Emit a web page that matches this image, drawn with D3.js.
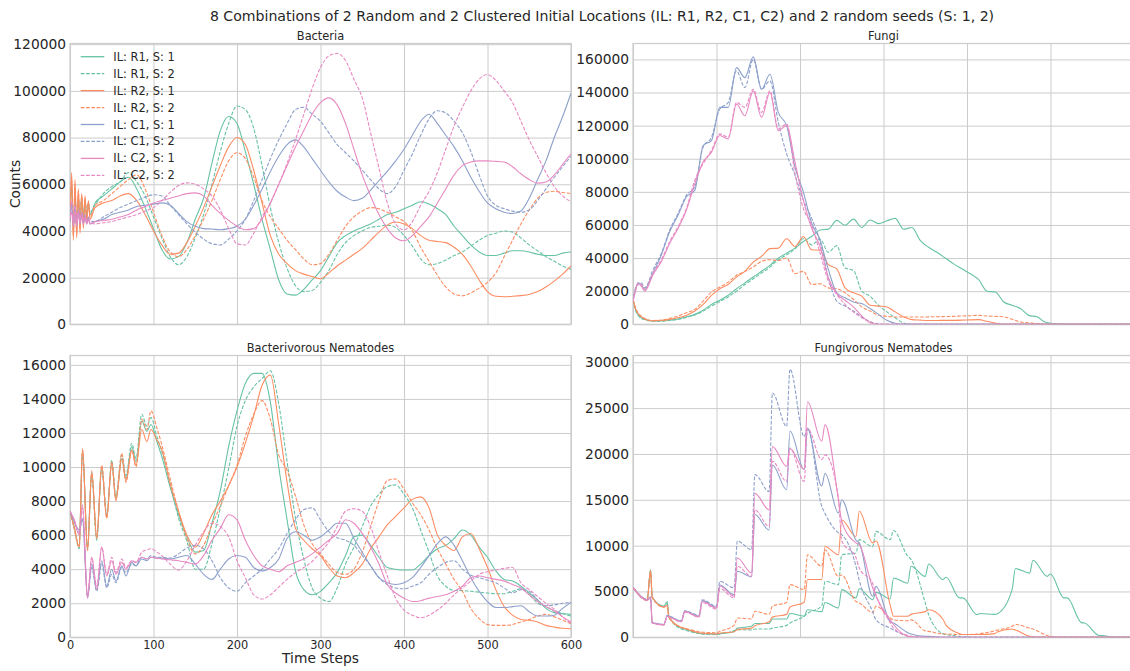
<!DOCTYPE html>
<html>
<head>
<meta charset="utf-8">
<script src="https://cdn.jsdelivr.net/npm/d3@7"></script>
<style>
  body { margin: 0; background: #fff; }
  svg text { font-family: "DejaVu Sans", sans-serif; fill: #262626; }
</style>
</head>
<body>
<svg id="chart" width="1130" height="671"></svg>
<script>
// ---------- data ----------
var runLabels = ["IL: R1, S: 1", "IL: R1, S: 2", "IL: R2, S: 1", "IL: R2, S: 2",
                 "IL: C1, S: 1", "IL: C1, S: 2", "IL: C2, S: 1", "IL: C2, S: 2"];
var runColors = ["#66c2a5", "#66c2a5", "#fc8d62", "#fc8d62", "#8da0cb", "#8da0cb", "#e78ac3", "#e78ac3"];
var runDashed = [false, true, false, true, false, true, false, true];

var stepTicks = [0, 100, 200, 300, 400, 500, 600];
var bacTicks = [0, 20000, 40000, 60000, 80000, 100000, 120000];
var funTicks = [0, 20000, 40000, 60000, 80000, 100000, 120000, 140000, 160000];
var bnTicks = [0, 2000, 4000, 6000, 8000, 10000, 12000, 14000, 16000];
var fnTicks = [0, 5000, 10000, 15000, 20000, 25000, 30000];

// Bacteria
var tBac = [0,2,4,6,8,10,12,14,16,18,20,22,24,30,40,50,60,70,80,90,100,110,120,130,140,150,160,170,180,190,200,
  210,220,230,240,250,260,270,280,290,300,310,320,330,340,350,360,370,380,390,400,410,420,430,440,450,460,470,480,490,500,
  510,520,530,540,550,560,570,580,590,600];
var bacR1S1 = [48000,60000,40000,56000,42000,54000,44000,55000,45000,53000,46000,52000,47000, 52000,
  55000,58000,61000,63000,58000,50000,41000,
  32000,28000,29000,35000,45000,54000,69000,83000,89000,86000,
  74000,60000,45000,32000,19000,13000,12500,15000,19000,23000,
  29000,35000,38000,40000,41500,43000,45000,47000,48000,49500,
  51000,52500,51500,49500,47000,42000,38000,34000,31000,29500,
  29500,30500,31500,31500,31000,30000,29500,29500,30500,31000];
var bacR1S2 = [50000,58000,42000,55000,43000,54000,45000,53000,46000,53000,47000,52000,48000, 51000,
  56000,59000,61000,65000,61000,55000,46000,
  37000,29000,25500,29000,37000,47000,60000,74000,86000,93500,
  92000,84000,68000,50000,35000,24000,16500,14000,14500,18000,
  23000,30000,35000,38000,40000,41500,42000,42500,41500,38000,
  33500,28000,25500,26000,27500,29500,31000,33500,36000,38000,
  39000,40000,39500,37000,34000,31500,29000,27000,25000,23500];
var bacR2S1 = [44000,65000,36000,62000,37000,58000,39000,56000,41000,55000,43000,53000,45000, 50000,
  52000,53000,55000,56000,53000,47000,40000,
  34000,30000,30500,35000,42000,50000,59000,68000,76000,80000,
  77000,66000,52000,38000,30000,26000,23000,21500,20500,19500,
  22000,25000,27500,30000,32500,36000,39500,42500,43800,43000,
  41000,38000,36000,35500,35000,33000,30000,25000,19000,14000,
  12000,11800,12000,12300,12800,14000,16000,18500,21500,25000];
var bacR2S2 = [46000,62000,38000,60000,39000,57000,41000,55000,43000,54000,45000,52000,46000, 51000,
  53000,56000,59000,62000,64000,58000,48000,
  38000,31000,29000,32000,38000,45000,53000,62000,70000,73500,
  71000,63000,53000,46000,41000,36000,32000,28000,25500,26000,
  30000,36000,42000,46000,48500,50000,49500,48000,46000,44000,
  40000,33000,27000,21000,16000,13000,12200,13500,15500,18000,
  22000,29000,36000,43000,49000,54000,56500,57000,56500,56000];
var bacC1S1 = [44000,52000,42000,50000,42000,49000,43000,48000,43000,47000,43000,46000,43000, 44000,
  45000,47000,48000,49000,50500,51000,51500,
  52000,51000,47500,44000,42000,41000,40800,40500,41000,42000,
  45000,51000,58000,65500,72000,77000,79000,76000,71000,66000,
  61000,57000,54500,53000,54000,57500,61500,65500,70000,75000,
  81000,87000,90000,86000,81000,76000,70000,63000,57000,52000,
  49500,48000,47500,48500,54000,62000,70000,80000,89000,99000];
var bacC1S2 = [45000,50000,43000,49000,43000,48000,44000,47000,44000,46000,44000,45500,44000, 44000,
  46000,48000,50000,51500,53000,54500,55500,
  55000,51000,47000,43000,39500,36500,34500,34000,36500,40000,
  45000,53000,62000,71000,79000,86000,92000,93000,90000,87000,
  82000,77000,73500,70000,66000,62000,58000,56000,59000,66000,
  73000,81000,88000,91500,90500,87000,82000,74000,64000,55000,
  51000,49500,48500,48000,49000,53000,58000,63000,67500,72000];
var bacC2S1 = [45000,48000,42000,49000,42000,48000,43000,47000,43000,46000,43000,45000,43000, 44000,
  44500,45000,46000,47000,49000,50500,52000,
  53000,54000,55000,56000,56300,55000,51000,47500,44500,42000,
  40500,41000,45000,52000,60000,68000,76000,83000,90000,95000,
  97000,94000,86000,75000,64000,55000,47000,41000,37000,35800,
  38000,42000,46000,52000,58000,64000,68000,69500,70000,70000,
  69800,69500,67500,64500,62000,60500,61000,64000,68500,73000];
var bacC2S2 = [47000,53000,44000,51000,44000,49000,44000,48000,44000,47000,44000,46000,43500, 43000,
  43500,44000,45000,46000,47000,48500,50000,
  53000,56500,59500,60600,60000,58000,55000,49000,41000,34500,
  34000,39000,46000,52000,60000,69000,79000,90000,101000,110000,
  115000,116000,113000,105000,97000,82000,67000,52000,43000,40500,
  44000,51000,57000,65000,75000,85000,93000,100000,105000,107000,
  104500,100000,95000,87000,79000,72000,65000,59000,55000,52500];

// Fungi
var tFun = [0,3,6,10,14,24,34,44,54,64,74,84,94,104,114,124,134,144,154,164,174,184,194,204,214,
  224,234,244,254,264,274,284,294,304,314,324,334,344,354,364,374,384,394,404,414,
  424,434,444,454,464,474,484,494,504,514,524,534,544,554,564,574,584,594,600];
var funR1S1 = [15500,9000,6000,4000,3000,
  2000,2200,2600,3200,4500,6000,8500,12000,14500,17500,
  21500,25000,28600,32000,35600,40000,43000,46000,50000,53000,
  57000,57500,62800,59800,63500,58500,63000,60800,62500,64000,
  57400,58500,50700,46500,43500,40000,36500,33500,30500,27000,
  20000,19500,13500,11500,9500,5400,4500,1200,400,0,
  0,0,0,0,0,0,0,0, 0];
var funR1S2 = [15000,8500,5500,3500,2800,
  1800,1800,2300,3000,4200,5600,8000,11000,13800,16500,
  20000,24000,27500,31000,34500,39000,42000,45500,51700,48000,
  51500,43500,47500,34000,32600,20000,17000,11500,7500,4000,
  800,0,0,0,0,0,0,0,0,0,
  0,0,0,0,0,0,0,0,0,0,
  0,0,0,0,0,0,0,0, 0];
var funR2S1 = [15500,9500,6500,4500,3200,
  2000,2300,3000,4000,5500,8000,12000,17500,21500,24000,
  28600,32000,37600,41000,45700,46000,51700,47000,53000,45000,
  44700,36000,33500,22000,19000,17000,11500,11000,10500,7500,
  4500,2800,2500,2300,2300,2400,2400,2500,2700,2800,
  1800,700,0,0,0,0,0,0,0,0,
  0,0,0,0,0,0,0,0, 0];
var funR2S2 = [15000,10000,7000,5000,3500,
  2300,2600,3600,5000,7000,9000,14000,19500,22500,25500,
  29600,32000,34600,38000,39000,38500,40000,30600,32000,24000,
  24500,22000,21500,19000,15000,10500,8000,5500,4800,4400,
  4400,4400,4400,4500,4600,4700,4800,5000,5200,5400,
  5000,4800,4500,3000,1400,900,400,0,0,0,
  0,0,0,0,0,0,0,0, 0];
var funC1S1 = [14000,21000,25000,24000,21000,
  31000,42000,56000,66000,77000,81000,108000,111000,131000,131000,
  155000,149000,161500,142000,151000,128000,120000,95000,80000,61000,
  51000,33000,19000,16000,13500,12500,9500,6000,2400,600,
  0,0,0,0,0,0,0,0,0,0,
  0,0,0,0,0,0,0,0,0,0,
  0,0,0,0,0,0,0,0, 0];
var funC1S2 = [14000,22000,24000,25000,22000,
  33000,43000,57000,67000,78000,83000,107000,113000,130000,134000,
  153000,143000,160000,142000,147000,122000,103000,90000,75000,64000,
  50000,28000,14000,11000,8000,4400,1500,300,0,0,
  0,0,0,0,0,0,0,0,0,0,
  0,0,0,0,0,0,0,0,0,0,
  0,0,0,0,0,0,0,0, 0];
var funC2S1 = [14000,21000,24000,23000,20000,
  30000,38000,49000,58000,69000,85000,98000,104000,114000,112000,
  133000,126000,141000,125000,140000,117000,120000,98000,75000,58000,
  47000,28000,18500,14500,10500,5000,1000,0,0,0,
  0,0,0,0,0,0,0,0,0,0,
  0,0,0,0,0,0,0,0,0,0,
  0,0,0,0,0,0,0,0, 0];
var funC2S2 = [14000,20000,25000,24000,21000,
  31000,39000,50000,59000,70000,87000,97000,105000,115000,113000,
  134000,131000,142000,128000,141000,118000,121000,91000,70000,60000,
  43000,26000,18000,12000,7400,4000,1500,0,0,0,
  0,0,0,0,0,0,0,0,0,0,
  0,0,0,0,0,0,0,0,0,0,
  0,0,0,0,0,0,0,0, 0];

// Bacterivorous Nematodes
var tBn = [0,5,11,15,21,26,32,38,44,50,55,62,67,74,79,86,92,97,104,
  110,120,130,140,150,160,170,180,190,200,210,220,230,240,250,260,270,280,290,300,
  310,320,330,340,350,360,370,380,390,400,410,420,430,440,450,460,470,480,490,500,
  510,520,530,540,550,560,570,580,590,600];
var bnR1S1 = [7400,6500,5300,11000,5300,9700,5800,9900,7100,10200,8100,10500,9300,11200,10300,12700,12100,12500,11500,
  10600,8800,7200,5900,5000,5100,6700,8600,11200,13300,
  14900,15500,15500,13800,10000,6900,3900,2800,2500,2700,
  3200,3800,4800,5900,6000,5400,4700,4100,4000,3950,
  3950,4300,4800,5200,5400,5800,6300,6000,5300,4700,
  3900,3400,3300,3000,2600,2200,1700,1450,1380,1350];
var bnR1S2 = [7400,6400,5200,10800,5200,9500,5700,10000,7200,10400,8300,10700,9500,11400,10500,13100,12400,12900,11800,
  10900,9000,7000,5650,4000,4000,5500,7600,9900,12400,
  13900,14700,15200,15650,13700,10300,7000,4600,2900,2300,
  2100,2900,4300,5300,6500,7700,8400,8850,8950,8400,
  7600,6300,5000,3600,3000,2750,2740,2700,2650,2600,
  2560,2560,2700,2850,2500,2000,1800,1550,1400,1250];
var bnR2S1 = [7400,6500,5300,11100,5200,9800,5900,10000,7000,10300,8000,10500,9200,11000,10100,12200,11500,12200,11600,
  11000,9000,7400,6000,5300,6100,7200,8000,8900,10000,
  11400,13000,14800,15400,12500,9100,6400,5700,5200,4800,
  4100,3600,3500,3800,4300,5200,5900,6600,7100,7600,
  8100,8250,7600,6000,5400,5100,5900,6100,5200,4100,
  2800,1800,1300,1050,1000,900,700,600,530,500];
var bnR2S2 = [7400,6400,5300,11000,5100,9600,5800,10100,7000,10200,8100,10800,9100,11000,10000,12800,12200,13300,12300,
  11300,9300,7400,5800,4900,5400,6600,7700,8900,10100,
  11800,13100,13900,12800,10700,9800,8300,6600,5500,4900,
  4300,3800,3700,4000,5000,6500,8000,9200,9300,8700,
  7900,7200,6300,5200,4300,3400,2700,1700,1100,750,
  700,700,750,900,1050,1250,1350,1200,1000,800];
var bnC1S1 = [7400,6800,6300,6900,2300,4300,2800,4500,3000,4000,3300,4200,3600,4400,4200,4600,4500,4700,4650,
  4650,4600,4700,4800,4300,3700,3400,4000,4600,4800,
  4700,4100,3900,4100,4600,5800,6200,6000,5700,5900,
  6300,6700,6700,5800,5000,4200,3500,3200,3100,3200,
  3500,4100,4800,5500,5900,5400,4500,3500,2700,2100,
  1750,1750,1800,1850,1500,1250,1250,1300,1700,2050];
var bnC1S2 = [7400,6800,6200,7000,2400,4100,2700,4300,2900,3700,3200,4100,3800,4300,4200,4700,4600,4800,4700,
  4700,4650,4900,5250,5400,5200,4500,3500,2900,2700,
  3200,3600,4000,4600,5200,6100,6900,7500,7600,6900,
  6200,5850,5700,5400,4800,4200,3500,3100,2900,2850,
  3000,3200,3700,4100,4400,4500,4000,3650,3500,3350,
  3200,2900,2600,2800,2700,2200,1850,1900,2000,2050];
var bnC2S1 = [7400,6900,6000,7800,2300,4700,2800,5300,3600,4500,3700,4400,4000,4500,4400,4700,4600,4700,4650,
  4600,4550,4500,4400,4300,4800,5700,6400,7200,6900,
  5700,4800,4200,4000,3850,4200,4400,4600,4900,5300,
  5700,6100,6900,6700,6100,5300,4300,3100,2600,2300,
  2100,2150,2300,2400,2500,2700,3000,3500,3600,3500,
  3400,3300,3100,2900,2500,2100,1800,1550,1200,900];
var bnC2S2 = [7400,6900,6100,7600,2400,4700,3000,5300,3700,4700,3800,4600,4100,4500,4400,5000,5150,5200,5000,
  4800,4300,3950,4500,5400,6200,6700,6500,5900,4500,
  3500,2500,2250,2500,2950,3400,3800,4100,4450,5000,
  5600,6500,7400,7550,7400,6500,5000,3600,2300,1600,
  1300,1150,1300,1600,2000,2500,2900,3300,3700,3850,
  3950,4050,4100,3200,2800,2400,2000,1650,1200,800];

// Fungivorous Nematodes (time points placed on the troughs and peaks of the saw-tooth)
var tFn = [0, 17,21,23, 37,41,43, 58,62, 79,83, 100,104, 121,125, 142,146, 163,167, 184,188, 205,209,
  226,230, 246,250, 267,271, 287,291, 308,312, 329,333, 350,354, 371,375, 391,395, 412,416,
  433,437, 454,458, 475,479, 496,500, 516,520, 537,541, 558,562, 579,583, 600];
var fnR1S1 = [5450, 4100,7400,4400, 3400,3900,2300, 1000,900, 450,400, 350,400, 600,1000, 1200,1500, 1500,2000,
  2000,2600, 2300,3000, 2800,3800, 3200,5200, 4300,5300, 4100,4900, 4200,6470, 5900,7750, 6650,8000,
  6300,6550, 4300,4300, 2470,2600, 2500,2600, 5200,7500, 7000,8400, 6650,6900, 4300,4300, 1600,1550,
  200,180, 0,0, 0];
var fnR1S2 = [5450, 4100,7300,4400, 3300,3700,2250, 900,800, 400,350, 300,350, 700,840, 800,900, 900,1000,
  1300,1560, 2300,2600, 3400,6100, 5750,9000, 9200,10650, 9900,11550, 10650,11650, 8850,8500, 3750,2500,
  400,300, 100,50, 0,0, 0,0, 0,0, 0,0, 0,0, 0,0, 0,0,
  0,0, 0,0, 0];
var fnR2S1 = [5450, 4100,7300,4400, 3300,3500,2200, 1050,950, 500,450, 360,450, 600,840, 1000,1250, 1700,2200,
  2500,3300, 3800,6300, 6300,9900, 9000,12800, 11000,13750, 10300,10500, 3500,2300, 2300,2500, 2800,3000,
  2000,1300, 400,300, 300,300, 400,600, 900,800, 100,50, 0,0, 0,0, 0,0,
  0,0, 0,0, 0];
var fnR2S2 = [5450, 4000,7200,4300, 3300,3400,2200, 1100,1000, 600,550, 500,650, 1300,2100, 2000,2840, 2500,3400,
  3800,5750, 5200,9000, 7750,9550, 6650,6800, 3900,3750, 2700,3400, 2100,1900, 1800,1900, 700,650,
  360,350, 300,300, 350,400, 700,800, 1200,1400, 1000,900, 200,100, 0,0, 0,0,
  0,0, 0,0, 0];
var fnC1S1 = [5450, 4100,4400,1600, 1400,2350,2300, 1750,2850, 2300,4000, 3300,5700, 4650,7200, 6600,13400, 11700,18800,
  16100,22500, 18300,22800, 16500,17900, 13550,15000, 10600,10300, 4470,5550, 1700,1550, 500,350, 100,100,
  0,0, 0,0, 0,0, 0,0, 0,0, 0,0, 0,0, 0,0, 0,0,
  0,0, 0,0, 0];
var fnC1S2 = [5450, 4100,4400,1600, 1400,2400,2350, 1800,2900, 2400,4100, 3400,6100, 5400,10500, 9550,17750, 15900,26650,
  23000,29250, 21900,22800, 14300,13500, 11400,11200, 7750,6200, 2800,1900, 1000,800, 150,100, 0,0,
  0,0, 0,0, 0,0, 0,0, 0,0, 0,0, 0,0, 0,0, 0,0,
  0,0, 0,0, 0];
var fnC2S1 = [5450, 4050,4300,1550, 1350,2300,2250, 1700,2800, 2250,3900, 3200,5600, 4500,8650, 7000,15700, 13900,20800,
  18650,20600, 18300,25700, 21400,23200, 15000,12650, 10300,10100, 5400,4500, 1900,1400, 100,50, 0,0,
  0,0, 0,0, 0,0, 0,0, 0,0, 0,0, 0,0, 0,0, 0,0,
  0,0, 0,0, 0];
var fnC2S2 = [5450, 4050,4300,1550, 1350,2300,2250, 1700,2750, 2200,3800, 3100,5300, 4300,7750, 6650,13900, 12100,19200,
  17000,20650, 17000,22800, 19400,19900, 15200,10500, 8700,7550, 5900,4650, 1600,1000, 200,100, 0,0,
  0,0, 0,0, 0,0, 0,0, 0,0, 0,0, 0,0, 0,0, 0,0,
  0,0, 0,0, 0];

// ---------- layout ----------
var plotW = 501;
var panels = [
  { title: "Bacteria", t: tBac, runs: [bacR1S1, bacR1S2, bacR2S1, bacR2S2, bacC1S1, bacC1S2, bacC2S1, bacC2S2],
    ymax: 120300, yTicks: bacTicks, left: 70, top: 43.5, bottom: 324.3, xLabels: false, legend: true },
  { title: "Fungi", t: tFun, runs: [funR1S1, funR1S2, funR2S1, funR2S2, funC1S1, funC1S2, funC2S1, funC2S2],
    ymax: 169600, yTicks: funTicks, left: 633, top: 43.5, bottom: 324.3, xLabels: false, legend: false },
  { title: "Bacterivorous Nematodes", t: tBn, runs: [bnR1S1, bnR1S2, bnR2S1, bnR2S2, bnC1S1, bnC1S2, bnC2S1, bnC2S2],
    ymax: 16550, yTicks: bnTicks, left: 70, top: 355.5, bottom: 637.3, xLabels: true, legend: false },
  { title: "Fungivorous Nematodes", t: tFn, runs: [fnR1S1, fnR1S2, fnR2S1, fnR2S2, fnC1S1, fnC1S2, fnC2S1, fnC2S2],
    ymax: 30740, yTicks: fnTicks, left: 633, top: 355.5, bottom: 637.3, xLabels: false, legend: false }
];

var svg = d3.select("#chart");
svg.append("rect").attr("width", 1130).attr("height", 671).attr("fill", "#fff");

svg.append("text")
  .attr("x", 602).attr("y", 20.5)
  .attr("text-anchor", "middle")
  .attr("font-size", 14.1)
  .text("8 Combinations of 2 Random and 2 Clustered Initial Locations (IL: R1, R2, C1, C2) and 2 random seeds (S: 1, 2)");

panels.forEach(function(p, k) {
  var h = p.bottom - p.top;
  var x = d3.scaleLinear().domain([0, 600]).range([0, plotW]);
  var y = d3.scaleLinear().domain([0, p.ymax]).range([h, 0]);

  var g = svg.append("g").attr("transform", "translate(" + p.left + "," + p.top + ")");

  // grid + tick labels
  var gx = g.append("g")
    .attr("transform", "translate(0," + h + ")")
    .call(d3.axisBottom(x).tickValues(stepTicks).tickSize(-h).tickPadding(3.5)
      .tickFormat(p.xLabels ? d3.format("d") : function() { return ""; }));
  var gy = g.append("g")
    .call(d3.axisLeft(y).tickValues(p.yTicks).tickSize(-plotW).tickPadding(4).tickFormat(d3.format("d")));
  [gx, gy].forEach(function(a) {
    a.select(".domain").remove();
    a.selectAll("line").attr("stroke", "#cccccc").attr("stroke-width", 1);
    a.selectAll("text").attr("font-family", "DejaVu Sans").attr("fill", "#262626");
  });
  gx.selectAll("text").attr("font-size", 11.4);
  gy.selectAll("text").attr("font-size", 13.8);

  // frame
  g.append("rect")
    .attr("width", plotW).attr("height", h)
    .attr("fill", "none").attr("stroke", "#cccccc").attr("stroke-width", 1.25);

  // subplot title
  g.append("text")
    .attr("x", plotW / 2).attr("y", -4)
    .attr("text-anchor", "middle")
    .attr("font-size", 11.4)
    .text(p.title);

  svg.append("clipPath").attr("id", "clip" + k)
    .append("rect").attr("width", plotW).attr("height", h);

  var line = d3.line()
    .x(function(d) { return x(d[0]); })
    .y(function(d) { return y(d[1]); })
    .curve(d3.curveMonotoneX);

  var lines = g.append("g").attr("clip-path", "url(#clip" + k + ")");
  p.runs.forEach(function(vals, i) {
    var pts = p.t.map(function(tt, j) { return [tt, vals[j]]; })
      .filter(function(d) { return d[1] !== undefined; });
    if (pts.length !== p.t.length) console.warn("length mismatch", p.title, runLabels[i], vals.length, p.t.length);
    lines.append("path")
      .datum(pts)
      .attr("d", line)
      .attr("fill", "none")
      .attr("stroke", runColors[i])
      .attr("stroke-width", 1.1)
      .attr("stroke-linejoin", "round")
      .attr("stroke-dasharray", runDashed[i] ? "3.7,1.6" : null);
  });

  // legend
  if (p.legend) {
    var lg = g.append("g");
    runLabels.forEach(function(lab, i) {
      var ly = 13.2 + i * 16.95;
      lg.append("line")
        .attr("x1", 10.7).attr("x2", 34.3).attr("y1", ly).attr("y2", ly)
        .attr("stroke", runColors[i]).attr("stroke-width", 1.3)
        .attr("stroke-dasharray", runDashed[i] ? "3.7,1.6" : null);
      lg.append("text")
        .attr("x", 43.3).attr("y", ly)
        .attr("dominant-baseline", "central")
        .attr("font-size", 11.4)
        .text(lab);
    });
  }
});

// axis labels
svg.append("text")
  .attr("transform", "translate(15,184) rotate(-90)")
  .attr("text-anchor", "middle")
  .attr("dominant-baseline", "central")
  .attr("font-size", 13.8)
  .text("Counts");

svg.append("text")
  .attr("x", 70 + plotW / 2).attr("y", 663)
  .attr("text-anchor", "middle")
  .attr("font-size", 13.8)
  .text("Time Steps");
</script>
</body>
</html>
